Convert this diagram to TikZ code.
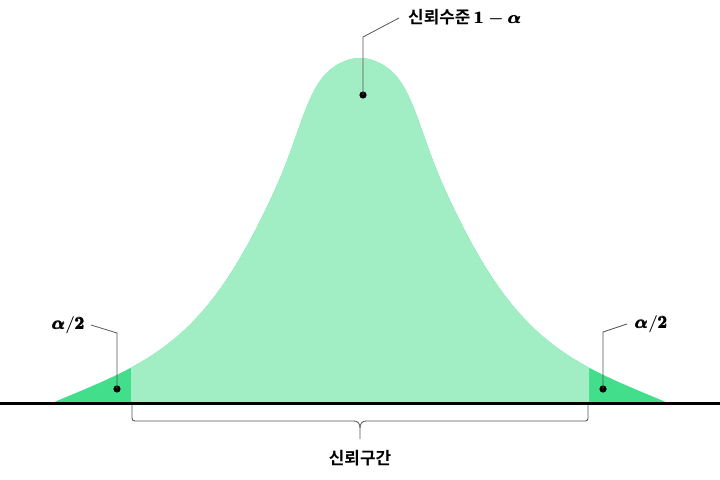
\documentclass[tikz,border=0pt]{standalone}
\usepackage{amsmath}
\usepackage{fontspec}
\usepackage{tikz}
\usetikzlibrary{positioning}
\newfontfamily\krfont{Noto Sans CJK KR}[BoldFont={Noto Sans CJK KR Bold}]
\definecolor{midgreen}{RGB}{161,238,197}
\definecolor{tailgreen}{RGB}{67,222,139}
\definecolor{leadgray}{RGB}{85,85,85}
\newcommand\bellpath{plot[domain=-308:308, samples=200] ({360+\x},{403-hgt(\x)}) -- cycle}

\begin{document}
\begin{tikzpicture}[
    x=1bp, y=-1bp,
    declare function={
      tpart(\t)=1/((1+(\t/163)^2)^2);
      capbump(\t)=0.11*(min(abs(\t),120)/55)^2*exp(-(min(abs(\t),120)/55)^4);
      hgt(\t)=345*(tpart(\t)+capbump(\t))*(1-(abs(\t)/308)^8);},
    dot/.style={circle, fill=black, inner sep=0pt, minimum size=7.2bp},
    leader/.style={draw=leadgray, line width=0.8bp},
    label/.style={font=\fontsize{17}{20}\selectfont\krfont\bfseries\boldmath, inner ysep=2bp},
    brace/.style={draw=leadgray, line width=0.8bp}
]
\useasboundingbox (0,0) rectangle (720,480);

\fill[tailgreen] \bellpath;
\begin{scope}
  \clip (131,0) rectangle (589,403);
  \fill[midgreen] \bellpath;
\end{scope}
\draw[line width=2.2bp] (0,403.5) -- (720,403.5);

\node[dot] (peakdot)  at (363,95)  {};
\node[dot] (leftdot)  at (117,389) {};
\node[dot] (rightdot) at (603,389) {};

\node[label, anchor=west, inner xsep=9bp] (level) at (399,18)  {신뢰수준 $\pmb{1}-\pmb{\alpha}$};
\node[label, anchor=east, inner xsep=6bp] (lefta)  at (91,325)  {$\pmb{\alpha}/\pmb{2}$};
\node[label, anchor=west, inner xsep=8bp] (righta) at (627,324) {$\pmb{\alpha}/\pmb{2}$};
\node[label] (interval) at (360,458) {신뢰구간};

\draw[leader] (peakdot.center) -- (363,37) -- (level.west);
\draw[leader] (leftdot.center) -- (117,333) -- (lefta.east);
\draw[leader] (rightdot.center) -- (603,332) -- (righta.west);

\draw[brace] (132,405) -- (132,418) .. controls (132,420) and (133,421) .. (135,421)
  -- (354,421) .. controls (358,421) and (360,424) .. (360,428) -- (360,439);
\draw[brace] (588,405) -- (588,418) .. controls (588,420) and (587,421) .. (585,421)
  -- (366,421) .. controls (362,421) and (360,424) .. (360,428);
\end{tikzpicture}
\end{document}
